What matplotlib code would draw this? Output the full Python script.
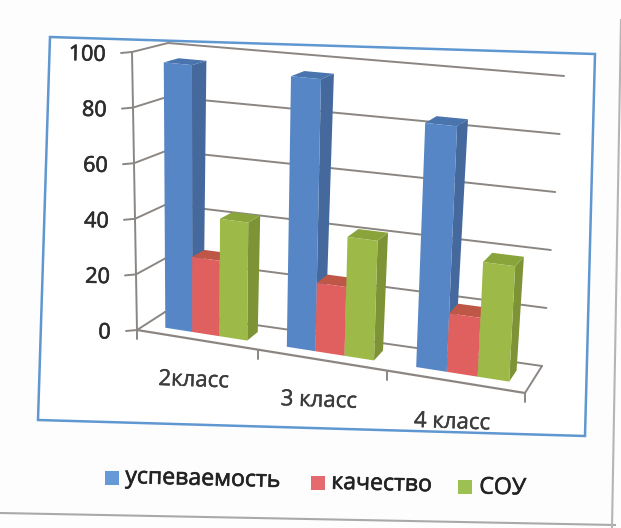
#!/usr/bin/env python3
"""Scanned 3D column chart: three classes, three measures."""
import numpy as np
import matplotlib
matplotlib.use("Agg")
import matplotlib.pyplot as plt
import matplotlib.patheffects as pe

plt.rcParams['font.family'] = ['Open Sans', 'DejaVu Sans']

categories = ["2класс", "3 класс", "4 класс"]
series_names = ["успеваемость", "качество", "СОУ"]
uspevaemost = [96, 95.5, 84]
kachestvo = [27, 24, 20]
sou = [42, 41.5, 39]
y_ticks = [0, 20, 40, 60, 80, 100]

front_cols = ["#5686c6", "#e0605f", "#9dba49"]
side_cols = ["#45699d", "#b9543f", "#7e9336"]
top_cols = ["#4a74ae", "#bf5747", "#8aa43c"]
swatch_cols = ["#6699d8", "#e56a6e", "#9cc052"]

# pixel corners of the plot box, (front/back, bottom/top, left/right)
FLB, FRB = np.array([137., 330.]), np.array([525., 393.])
FLT, FRT = np.array([132., 52.]), np.array([539., 93.])
BLB, BRB = np.array([165., 312.]), np.array([542., 366.])
BLT, BRT = np.array([168., 43.]), np.array([564., 76.])
W = 1.10  # foreshortening along the category axis
N = len(categories)
heavy = [pe.withStroke(linewidth=0.5, foreground="#333333")]


def project(u, v, d):
    # u: category position, v: value, d: depth 0-1
    t = u / N
    f = t / (t + W * (1 - t))
    h = v / 100.0
    front = (1-h)*((1-f)*FLB + f*FRB) + h*((1-f)*FLT + f*FRT)
    back = (1-h)*((1-f)*BLB + f*BRB) + h*((1-f)*BLT + f*BRT)
    return (1-d)*front + d*back


def quad(ax, pts, color, z):
    pts = np.array(pts)
    ax.fill(pts[:, 0], pts[:, 1], color=color, lw=0, zorder=z)


def line(ax, a, b, color="#8b8682", lw=1.4, z=2):
    ax.plot([a[0], b[0]], [a[1], b[1]], color=color, lw=lw, zorder=z, solid_capstyle="round")


fig = plt.figure(figsize=(6.21, 5.28), dpi=100, facecolor="#fdfdfd")
ax = fig.add_axes([0, 0, 1, 1])
ax.set_xlim(0, 621)
ax.set_ylim(528, 0)
ax.axis("off")

# scan edges and chart frame
ax.plot([0, 615], [513, 525], color="#a9a9a9", lw=1.5)
ax.plot([621, 612], [20, 528], color="#b5b5b5", lw=1.5)
ax.fill([50, 595, 585, 38], [37, 54, 436, 420], facecolor="#ffffff", edgecolor="#5f97d0", lw=1.8, zorder=1)

# walls, floor
for v in y_ticks:
    line(ax, project(0, v, 0), project(0, v, 1))
    line(ax, project(0, v, 1), project(N, v, 1))
    p = project(0, v, 0)
    line(ax, p, p + np.array([-11, 1]))
    t = ax.text(p[0] - 26, p[1] + 3, str(v), ha="right", va="center", fontsize=15.5,
                color="#2c2c2c", rotation=-1.5, zorder=6)
    t.set_path_effects(heavy)
line(ax, project(0, 0, 0), project(0, 100, 0))
line(ax, project(N, 0, 0), project(N, 0, 1))
line(ax, project(0, 0, 0), project(N, 0, 0), lw=1.6)
for u in range(N + 1):
    p = project(u, 0, 0)
    line(ax, p, p + np.array([0, 9]))

# columns
series = [uspevaemost, kachestvo, sou]
bar_w = 0.227
d0, d1 = 0.30, 0.72
for i in range(N):
    for s, vals in enumerate(series):
        x0 = i + 0.17 + s * bar_w
        x1 = x0 + bar_w
        v = vals[i]
        z = 3 + i + s * 0.1
        quad(ax, [project(x1, 0, d0), project(x1, v, d0), project(x1, v, d1), project(x1, 0, d1)], side_cols[s], z)
        quad(ax, [project(x0, v, d0), project(x1, v, d0), project(x1, v, d1), project(x0, v, d1)], top_cols[s], z)
        quad(ax, [project(x0, 0, d0), project(x1, 0, d0), project(x1, v, d0), project(x0, v, d0)], front_cols[s], z + 0.01)

# category labels
for i, name in enumerate(categories):
    p = project(i + 0.5, 0, 0)
    t = ax.text(p[0] - 3, p[1] + 41, name, ha="center", va="center", fontsize=16,
                color="#3c3c3c", rotation=-2, zorder=7)
    t.set_path_effects([pe.withStroke(linewidth=0.3, foreground="#3c3c3c")])

# legend
legend_x = [112, 318, 465]
legend_y = [478, 483, 487]
text_x = [125, 331, 479]
for s, name in enumerate(series_names):
    ax.fill([legend_x[s] - 7, legend_x[s] + 7, legend_x[s] + 7, legend_x[s] - 7],
            [legend_y[s] - 7, legend_y[s] - 7, legend_y[s] + 7, legend_y[s] + 7],
            color=swatch_cols[s], lw=0, zorder=7)
    t = ax.text(text_x[s], legend_y[s] + 1, name, ha="left", va="center", fontsize=16.6,
                color="#222222", rotation=-1.5, zorder=7)
    t.set_path_effects(heavy)

fig.savefig("out.png", dpi=100, facecolor=fig.get_facecolor())
